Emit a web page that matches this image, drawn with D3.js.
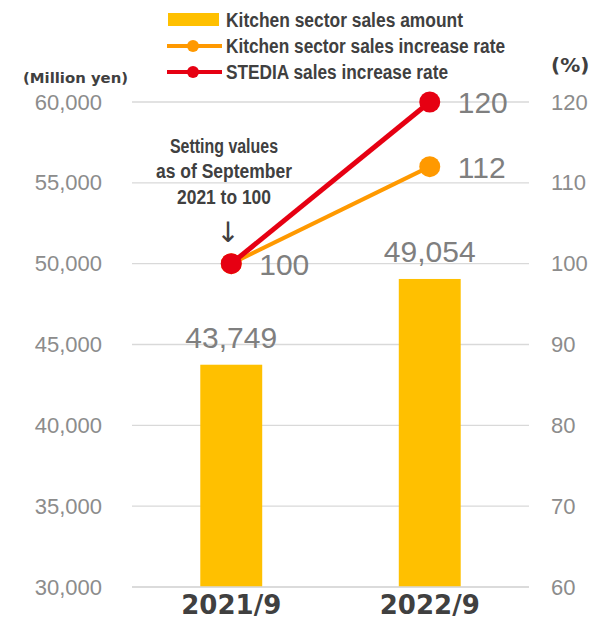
<!DOCTYPE html>
<html>
<head>
<meta charset="utf-8">
<script src="https://cdn.jsdelivr.net/npm/d3@7/dist/d3.min.js"></script>
<style>
  html, body { margin: 0; padding: 0; background: #fff; }
  svg { display: block; }
</style>
</head>
<body>
<script>
// Data
const categories = ["2021/9", "2022/9"];
const salesAmount = [43749, 49054];          // Kitchen sector sales amount (million yen)
const kitchenRate = [100, 112];              // Kitchen sector sales increase rate (%)
const stediaRate = [100, 120];               // STEDIA sales increase rate (%)
const leftTicks = [30000, 35000, 40000, 45000, 50000, 55000, 60000];
const rightTicks = [60, 70, 80, 90, 100, 110, 120];
const legendLabels = ["Kitchen sector sales amount", "Kitchen sector sales increase rate", "STEDIA sales increase rate"];
const noteLines = ["Setting values", "as of September", "2021 to 100"];

const W = 611, H = 624;
const plot = { left: 132, right: 529, top: 102, bottom: 587 };
const colors = { bar: "#FFC000", kitchen: "#FF9900", stedia: "#E60012" };
const FONT = "'Liberation Sans', Arial, sans-serif";
const FONT_V = "'DejaVu Sans', Verdana, sans-serif";

const svg = d3.select("body").append("svg").attr("width", W).attr("height", H);

const x = d3.scaleBand().domain(categories).range([plot.left, plot.right])
  .paddingInner(0.688).paddingOuter(0.344);
const cx = c => x(c) + x.bandwidth() / 2;
const yL = d3.scaleLinear().domain([30000, 60000]).range([plot.bottom, plot.top]);
const yR = d3.scaleLinear().domain([60, 120]).range([plot.bottom, plot.top]);

// Gridlines
svg.append("g").selectAll("line").data(leftTicks).join("line")
  .attr("x1", plot.left).attr("x2", plot.right)
  .attr("y1", d => yL(d)).attr("y2", d => yL(d))
  .attr("stroke", "#d9d9d9").attr("stroke-width", 1.3);

// Left axis
const leftAxis = svg.append("g").attr("transform", `translate(${plot.left},0)`)
  .call(d3.axisLeft(yL).tickValues(leftTicks).tickFormat(d3.format(",")).tickSize(0).tickPadding(30));
leftAxis.select(".domain").remove();
leftAxis.selectAll("text").attr("font-family", FONT).attr("font-size", 22).attr("fill", "#8c8c8c");

// Right axis
const rightAxis = svg.append("g").attr("transform", `translate(${plot.right},0)`)
  .call(d3.axisRight(yR).tickValues(rightTicks).tickSize(0).tickPadding(22));
rightAxis.select(".domain").remove();
rightAxis.selectAll("text").attr("font-family", FONT).attr("font-size", 22).attr("fill", "#8c8c8c");

// Bottom axis (category labels)
const bottomAxis = svg.append("g").attr("transform", `translate(0,${plot.bottom})`)
  .call(d3.axisBottom(x).tickSize(0).tickPadding(9));
bottomAxis.select(".domain").remove();
bottomAxis.selectAll("text").attr("font-family", FONT_V).attr("font-weight", "bold")
  .attr("font-size", 26).attr("fill", "#404040");

// Bars
svg.append("g").selectAll("rect").data(categories).join("rect")
  .attr("x", d => x(d)).attr("width", x.bandwidth())
  .attr("y", (d, i) => yL(salesAmount[i]))
  .attr("height", (d, i) => yL(30000) - yL(salesAmount[i]))
  .attr("fill", colors.bar);

// Bar value labels
svg.append("g").selectAll("text").data(categories).join("text")
  .attr("x", d => cx(d)).attr("y", (d, i) => yL(salesAmount[i]) - 17)
  .attr("text-anchor", "middle").attr("font-family", FONT).attr("font-size", 30)
  .attr("fill", "#7f7f7f").text((d, i) => d3.format(",")(salesAmount[i]));

// Baseline
svg.append("line").attr("x1", plot.left).attr("x2", plot.right)
  .attr("y1", plot.bottom).attr("y2", plot.bottom)
  .attr("stroke", "#d9d9d9").attr("stroke-width", 1.3);

// Rate lines
const line = d3.line().x((d, i) => cx(categories[i])).y(d => yR(d));
function drawSeries(values, color, width, labelIdx) {
  const g = svg.append("g");
  g.append("path").datum(values).attr("d", line)
    .attr("fill", "none").attr("stroke", color).attr("stroke-width", width);
  g.selectAll("circle").data(values).join("circle")
    .attr("cx", (d, i) => cx(categories[i])).attr("cy", d => yR(d))
    .attr("r", 10.5).attr("fill", color);
  g.selectAll("text").data(labelIdx).join("text")
    .attr("x", i => cx(categories[i]) + 28).attr("y", i => yR(values[i]) + 11)
    .attr("font-family", FONT).attr("font-size", 30).attr("fill", "#7f7f7f")
    .text(i => values[i]);
}
drawSeries(kitchenRate, colors.kitchen, 4, [1]);
drawSeries(stediaRate, colors.stedia, 5, [0, 1]);

// Axis unit labels
svg.append("text").attr("x", 23).attr("y", 83)
  .attr("font-family", FONT_V).attr("font-weight", "bold").attr("font-size", 14.5)
  .attr("fill", "#404040").attr("textLength", 105).attr("lengthAdjust", "spacingAndGlyphs")
  .text("(Million yen)");
svg.append("text").attr("x", 551).attr("y", 72)
  .attr("font-family", FONT_V).attr("font-weight", "bold").attr("font-size", 20)
  .attr("fill", "#404040").text("(%)");

// Note above the first point
const note = svg.append("g");
const noteWidths = [108, 136, 94];
const noteY = [153, 178, 204];
note.selectAll("text").data(noteLines).join("text")
  .attr("x", 224).attr("y", (d, i) => noteY[i])
  .attr("text-anchor", "middle").attr("font-family", FONT).attr("font-weight", "bold")
  .attr("font-size", 20).attr("fill", "#404040")
  .attr("textLength", (d, i) => noteWidths[i]).attr("lengthAdjust", "spacingAndGlyphs")
  .text(d => d);
note.append("text").attr("x", 228).attr("y", 242).attr("text-anchor", "middle")
  .attr("font-family", FONT_V).attr("font-size", 28).attr("fill", "#404040").text("↓");

// Legend
const legend = svg.append("g");
const legendWidths = [237, 279, 222];
const rowY = [20, 46, 72];
legend.append("rect").attr("x", 168).attr("y", 13).attr("width", 51).attr("height", 13)
  .attr("fill", colors.bar);
[[colors.kitchen, 1], [colors.stedia, 2]].forEach(([c, r]) => {
  legend.append("line").attr("x1", 167).attr("x2", 222)
    .attr("y1", rowY[r]).attr("y2", rowY[r]).attr("stroke", c).attr("stroke-width", 4);
  legend.append("circle").attr("cx", 193).attr("cy", rowY[r]).attr("r", 6).attr("fill", c);
});
legend.selectAll("text").data(legendLabels).join("text")
  .attr("x", 226).attr("y", (d, i) => rowY[i] + 7)
  .attr("font-family", FONT).attr("font-weight", "bold").attr("font-size", 19.5)
  .attr("fill", "#404040")
  .attr("textLength", (d, i) => legendWidths[i]).attr("lengthAdjust", "spacingAndGlyphs")
  .text(d => d);
</script>
</body>
</html>
